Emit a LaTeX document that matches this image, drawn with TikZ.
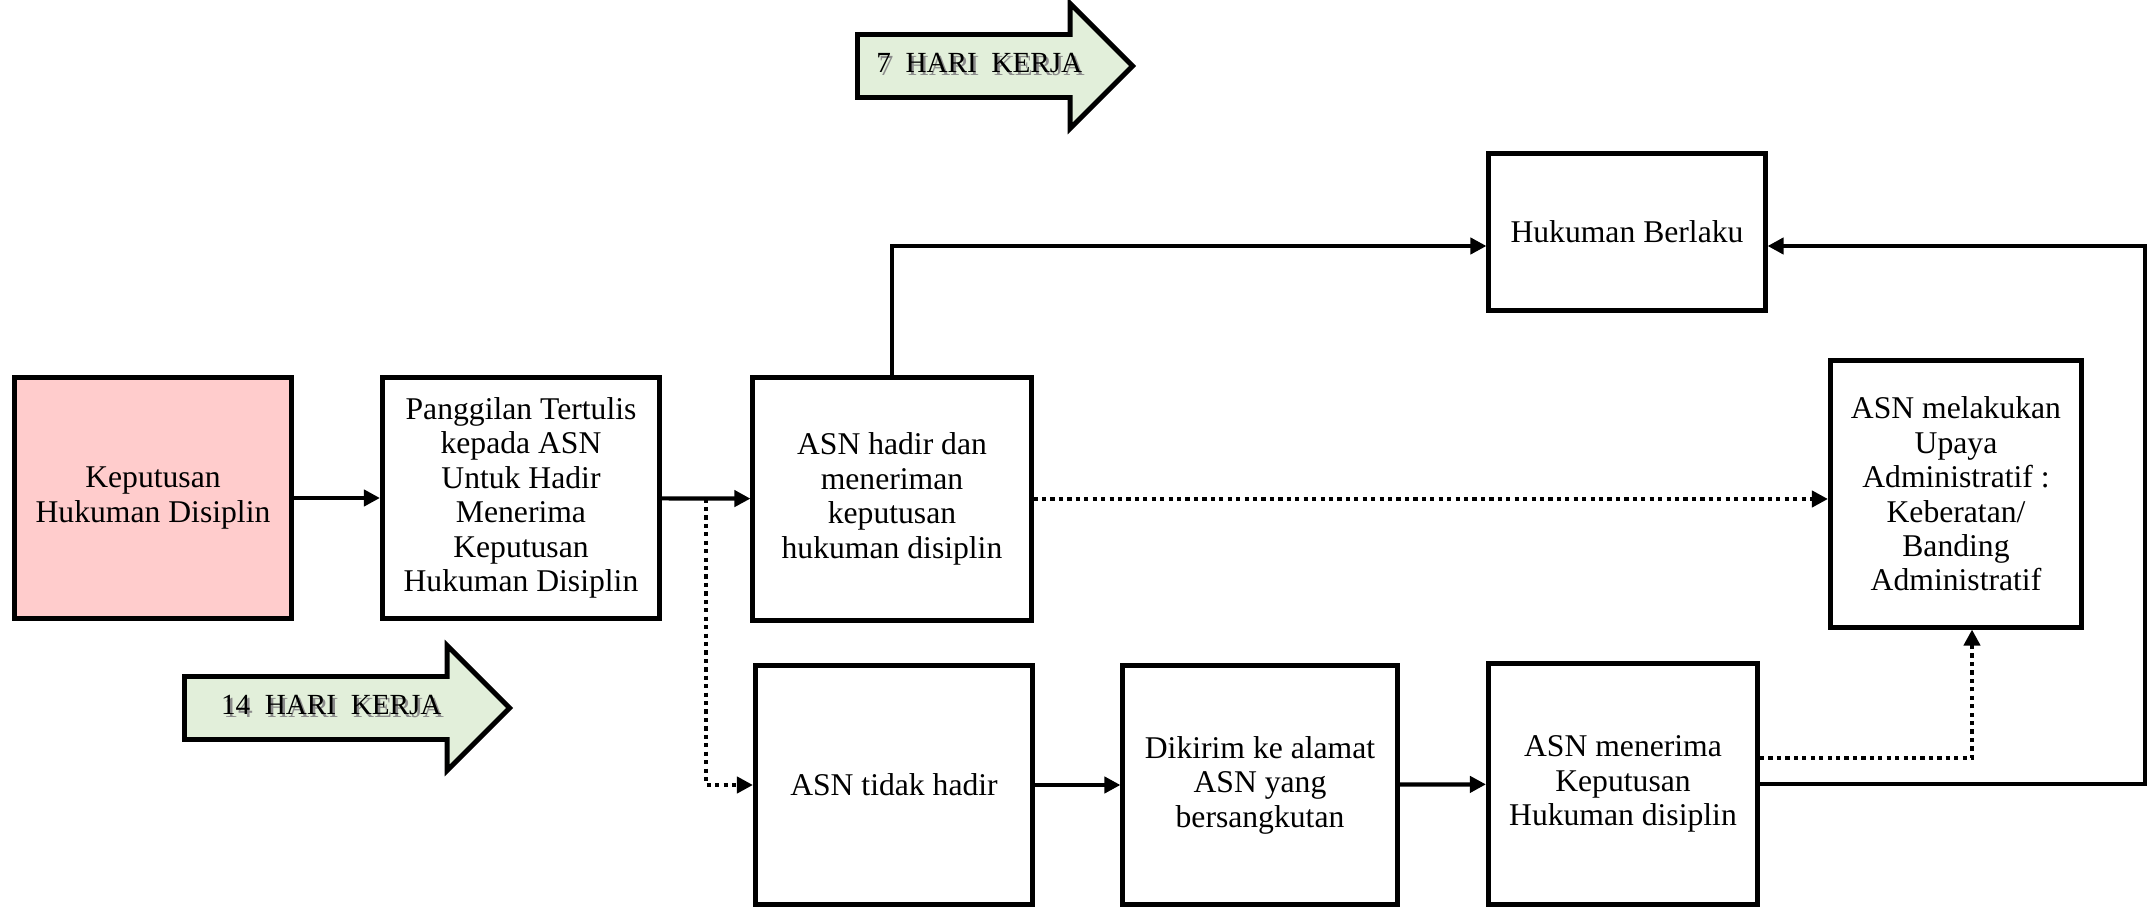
\documentclass[tikz,border=0pt]{standalone}
\usepackage{xcolor}
\usepackage{tikz}
\usepackage{fontspec}
\setmainfont{Liberation Serif}
\usetikzlibrary{shapes.arrows, arrows.meta, positioning, calc}

\definecolor{merahmuda}{RGB}{255,204,204}
\definecolor{hijaumuda}{RGB}{226,239,218}
\newcommand{\teksbayang}[1]{\makebox[0pt][l]{\hspace{0.7pt}\raisebox{-0.7pt}{\color{black!45}#1}}#1}

\begin{document}
\begin{tikzpicture}[x=0.01cm,y=-0.01cm,
    kotak/.style={rectangle,draw=black,line width=1.4pt,fill=white,align=center,font=\fontsize{9}{9.8}\selectfont,inner sep=2pt},
    panah/.style={line width=1.2pt,-{Triangle[length=0.16cm,width=0.16cm]}},
    panahtitik/.style={panah,dash pattern=on 1.2pt off 1.2pt},
    hari/.style={single arrow,draw=black,line width=1.4pt,fill=hijaumuda,single arrow head extend=0.31cm,text height=0.2cm,text depth=0.06cm,inner ysep=0.16cm,anchor=tail,font=\fontsize{8.3}{9}\selectfont}]
    \useasboundingbox (0,0) rectangle (2150,907);

    % Keputusan Hukuman Disiplin
    \node[kotak,fill=merahmuda,minimum width=2.76cm,minimum height=2.4cm] (keputusan) at (153,498) {Keputusan\\Hukuman Disiplin};
    \node[kotak,minimum width=2.77cm,minimum height=2.4cm] (panggilan) at (521,498) {Panggilan Tertulis\\kepada ASN\\Untuk Hadir\\Menerima\\Keputusan\\Hukuman Disiplin};

    % ASN hadir / tidak hadir
    \node[kotak,minimum width=2.78cm,minimum height=2.42cm] (hadir) at (892,499) {ASN hadir dan\\meneriman\\keputusan\\hukuman disiplin};
    \node[kotak,minimum width=2.77cm,minimum height=2.39cm] (tidakhadir) at (894,785) {ASN tidak hadir};
    \node[kotak,minimum width=2.74cm,minimum height=2.39cm] (dikirim) at (1260,785) {Dikirim ke alamat\\ASN yang\\bersangkutan};
    \node[kotak,minimum width=2.69cm,minimum height=2.4cm] (menerima) at (1623,784) {ASN menerima\\Keputusan\\Hukuman disiplin};

    % Hukuman Berlaku dan Upaya Administratif
    \node[kotak,minimum width=2.76cm,minimum height=1.57cm] (berlaku) at (1627,232) {Hukuman Berlaku};
    \node[kotak,minimum width=2.51cm,minimum height=2.66cm] (upaya) at (1956,494) {ASN melakukan\\Upaya\\Administratif :\\Keberatan/\\Banding\\Administratif};

    % Batas waktu
    \node[hari,minimum height=2.75cm] (tujuhhari) at (855,66) {\teksbayang{7\ \ HARI\ \ KERJA}};
    \node[hari,minimum height=3.25cm] (empatbelashari) at (182,708) {\teksbayang{14\ \ HARI\ \ KERJA}};

    % Alur
    \coordinate (cabang) at ($(panggilan.east)!0.5!(hadir.west)$);
    \coordinate (sudut) at (2145,786);
    \draw[panah] (keputusan) -- (panggilan);
    \draw[panah] (panggilan) -- (hadir);
    \draw[panahtitik] (cabang) |- (tidakhadir);
    \draw[panah] (hadir) |- ([yshift=-0.14cm]berlaku.west);
    \draw[panahtitik] (hadir) -- (hadir -| upaya.west);
    \draw[panah] (tidakhadir) -- (dikirim);
    \draw[panah] (dikirim) -- (menerima);
    \draw[panahtitik] ([yshift=0.26cm]menerima.east) -| ([xshift=0.16cm]upaya.south);
    \draw[panah] (menerima.east) -- (menerima.east -| sudut) |- ([yshift=-0.14cm]berlaku.east);
\end{tikzpicture}
\end{document}
